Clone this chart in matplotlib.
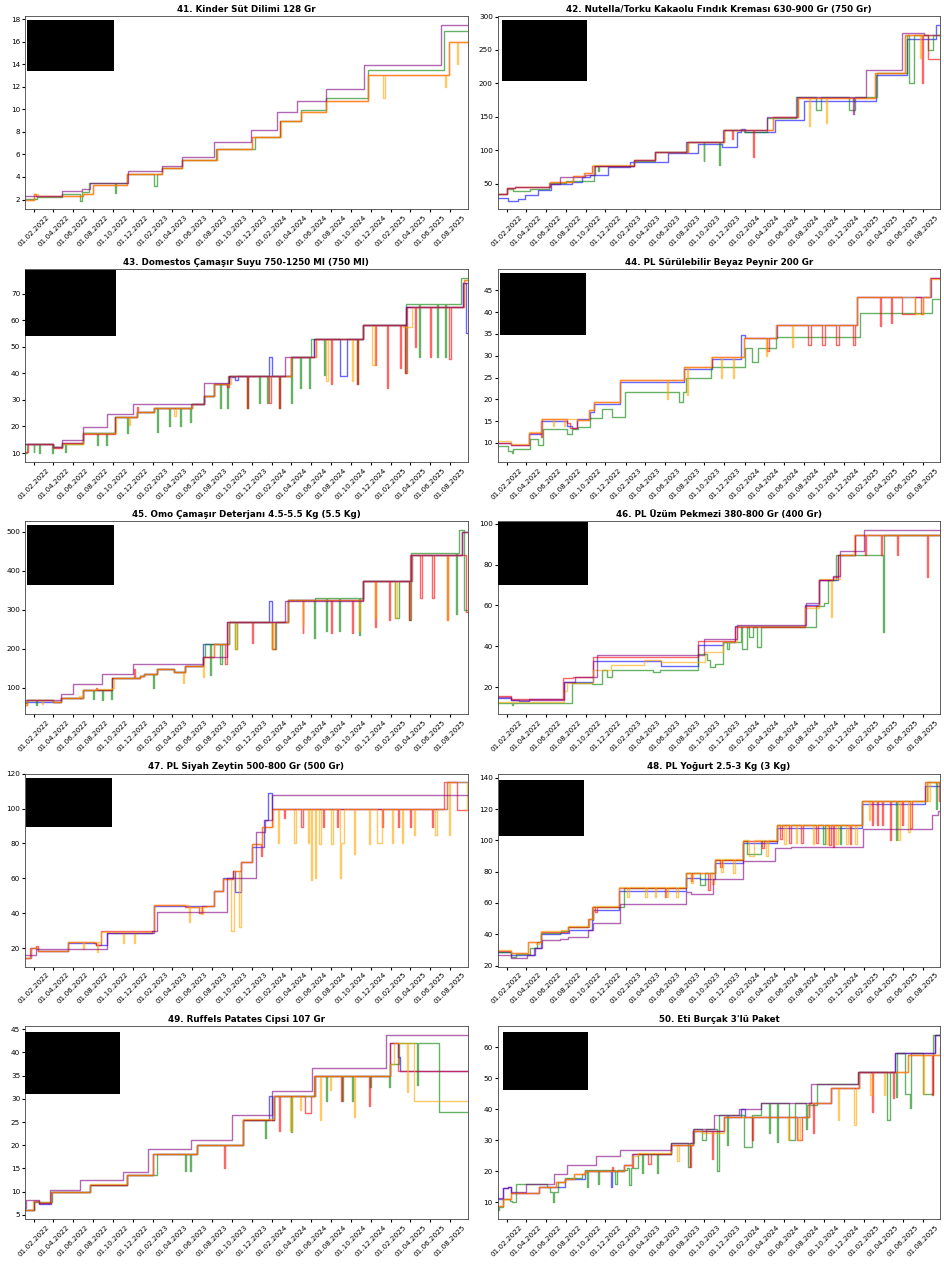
import matplotlib
matplotlib.use('Agg')
import matplotlib.pyplot as plt
import matplotlib.dates as mdates
from matplotlib.patches import Rectangle
import pandas as pd

END = '2025-09-24'

titles = ['41. Kinder Süt Dilimi 128 Gr',
          '42. Nutella/Torku Kakaolu Fındık Kreması 630-900 Gr (750 Gr)',
          '43. Domestos Çamaşır Suyu 750-1250 Ml (750 Ml)',
          '44. PL Sürülebilir Beyaz Peynir 200 Gr',
          '45. Omo Çamaşır Deterjanı 4.5-5.5 Kg (5.5 Kg)',
          '46. PL Üzüm Pekmezi 380-800 Gr (400 Gr)',
          '47. PL Siyah Zeytin 500-800 Gr (500 Gr)',
          '48. PL Yoğurt 2.5-3 Kg (3 Kg)',
          '49. Ruffels Patates Cipsi 107 Gr',
          "50. Eti Burçak 3'lü Paket"]

# --- 41 ---
blue41 = []
green41 = [('2022-01-04',2.05),('2022-02-10',2.2),('2022-04-26',2.5),('2022-06-22',1.9),('2022-06-29',2.7),('2022-07-20',3.5),('2022-10-08',2.6),('2022-10-11',3.5),('2022-11-13',4.3),('2023-02-04',3.2),('2023-02-14',4.3),('2023-03-02',4.8),('2023-04-30',5.5),('2023-08-14',6.5),('2023-12-10',7.5),('2024-02-26',9.0),('2024-05-01',9.95),('2024-07-16',11.0),('2024-11-21',13.5),('2025-07-15',16.95)]
red41 = [('2022-01-04',2.0),('2022-02-01',2.5),('2022-02-08',2.3),('2022-06-30',2.5),('2022-08-01',3.25),('2022-11-12',4.25),('2023-03-02',4.8),('2023-04-30',5.5),('2023-08-17',6.5),('2023-12-03',7.5),('2024-02-27',9.0),('2024-05-01',9.75),('2024-07-16',10.75),('2024-11-23',13.0),('2025-07-28',16.0)]
orange41 = [('2022-01-04',2.0),('2022-02-01',2.5),('2022-02-12',2.3),('2022-06-30',2.5),('2022-08-01',3.25),('2022-11-13',4.25),('2023-03-02',4.8),('2023-04-30',5.5),('2023-08-17',6.5),('2023-12-03',7.5),('2024-02-28',9.0),('2024-05-01',9.75),('2024-07-16',10.75),('2024-11-23',13.0),('2025-01-07',11.0),('2025-01-14',13.0),('2025-07-17',12.0),('2025-07-20',13.0),('2025-07-28',16.0),('2025-08-22',14.0),('2025-08-24',16.0)]
purple41 = [('2022-01-04',2.3),('2022-04-26',2.75),('2022-06-29',2.95),('2022-07-21',3.5),('2022-11-15',4.5),('2023-03-02',4.95),('2023-04-30',5.75),('2023-08-06',7.1),('2023-11-30',8.15),('2024-02-18',9.75),('2024-04-17',10.75),('2024-07-16',11.8),('2024-11-11',13.95),('2025-07-05',17.45)]

# --- 42 ---
blue42 = [('2022-01-04',28.5),('2022-02-05',25),('2022-03-06',27),('2022-03-28',33),('2022-05-08',41),('2022-06-18',50),('2022-08-19',53.5),('2022-09-19',60),('2022-10-15',64),('2022-12-10',75),('2023-02-15',83),('2023-06-11',96),('2023-09-10',110),('2023-11-23',105),('2024-01-09',127),('2024-01-20',132),('2024-02-03',127),('2024-05-06',146),('2024-08-03',174.5),('2025-03-10',212),('2025-06-13',266),('2025-09-10',287)]
green42 = [('2022-01-04',35),('2022-02-01',42.5),('2022-02-20',40),('2022-04-12',42.5),('2022-06-11',51),('2022-08-01',54),('2022-10-28',77),('2022-11-07',70),('2022-11-10',77),('2023-02-27',84),('2023-05-01',97),('2023-08-07',112),('2023-09-28',84),('2023-10-01',112),('2023-11-15',78),('2023-11-18',112),('2023-11-29',130),('2024-01-31',128),('2024-04-11',148),('2024-07-09',180),('2024-09-08',160),('2024-09-23',180),('2024-12-17',160),('2025-01-04',180),('2025-03-14',215),('2025-06-13',272),('2025-06-20',200),('2025-07-05',272),('2025-08-18',250),('2025-09-03',272)]
red42 = [('2022-01-04',35),('2022-02-01',44),('2022-02-26',45.5),('2022-06-14',53),('2022-08-22',62),('2022-09-25',66),('2022-10-20',77),('2023-02-27',85),('2023-05-01',98),('2023-08-12',113),('2023-11-29',130),('2023-12-24',117),('2023-12-27',130),('2024-02-26',90),('2024-02-29',130),('2024-04-28',150),('2024-07-14',178),('2025-03-09',216),('2025-06-08',272),('2025-07-29',200),('2025-08-01',272),('2025-08-18',236)]
orange42 = [('2022-01-04',35),('2022-02-01',44),('2022-02-26',45.5),('2022-06-14',53),('2022-08-22',62),('2022-09-25',66),('2022-10-25',78),('2023-02-27',85),('2023-05-01',98),('2023-08-12',113),('2023-11-29',130),('2024-04-28',150),('2024-07-14',178),('2024-08-16',137),('2024-08-19',178),('2024-10-07',141),('2024-10-10',178),('2025-03-09',216),('2025-06-08',272),('2025-07-23',238),('2025-07-26',272)]
purple42 = [('2022-01-04',35),('2022-02-01',44),('2022-02-26',45.5),('2022-06-14',50),('2022-07-15',61),('2022-09-30',64),('2022-10-30',77),('2023-02-27',85),('2023-05-01',98),('2023-08-04',112),('2023-11-26',130),('2024-04-09',150),('2024-07-11',180),('2024-12-29',155),('2025-01-01',180),('2025-02-09',220),('2025-05-30',275),('2025-08-05',272)]

# --- 43 ---
blue43 = [('2022-01-04',13.3),('2022-04-01',12.2),('2022-04-26',13.6),('2022-07-01',17.5),('2022-10-08',23.5),('2022-12-15',25.5),('2023-02-04',27.0),('2023-05-31',28.5),('2023-07-06',31.5),('2023-08-06',36.0),('2023-09-22',38.5),('2023-10-10',37.5),('2023-10-20',39.0),('2024-01-24',46.0),('2024-01-31',39.0),('2024-03-30',46.0),('2024-06-10',53.0),('2024-08-28',39.0),('2024-09-18',53.0),('2024-11-08',58.0),('2025-03-20',65.0),('2025-09-10',74.0),('2025-09-20',55.0)]
green43 = [('2022-01-04',10.0),('2022-01-09',13.3),('2022-01-30',10.5),('2022-02-02',13.3),('2022-02-15',10.0),('2022-02-18',13.3),('2022-03-27',10.0),('2022-03-30',13.3),('2022-04-01',12.2),('2022-04-26',13.5),('2022-05-06',10.5),('2022-05-09',13.5),('2022-07-01',17.5),('2022-08-13',13.0),('2022-08-16',17.5),('2022-09-11',13.0),('2022-09-14',17.5),('2022-10-06',23.5),('2022-11-14',17.6),('2022-11-17',23.5),('2022-12-15',25.5),('2023-02-04',27.0),('2023-02-14',18.0),('2023-02-17',27.0),('2023-03-23',20.2),('2023-03-26',27.0),('2023-04-25',20.3),('2023-04-28',27.0),('2023-05-25',21.5),('2023-05-28',28.5),('2023-07-06',31.5),('2023-08-06',36.0),('2023-08-27',26.8),('2023-08-30',36.0),('2023-09-17',26.8),('2023-09-20',39.0),('2023-11-17',27.0),('2023-11-20',39.0),('2023-12-23',29.0),('2023-12-26',39.0),('2024-01-16',29.0),('2024-01-19',39.0),('2024-02-24',27.0),('2024-02-27',39.0),('2024-03-30',29.0),('2024-04-02',46.0),('2024-04-26',34.5),('2024-04-29',46.0),('2024-05-24',34.5),('2024-05-27',46.0),('2024-06-01',53.0),('2024-07-11',39.5),('2024-07-14',53.0),('2024-10-19',36.0),('2024-10-22',53.0),('2024-11-08',58.0),('2025-03-17',40.0),('2025-03-20',66.0),('2025-04-28',46.0),('2025-05-01',66.0),('2025-06-22',46.0),('2025-06-26',66.0),('2025-07-17',46.0),('2025-07-21',66.0),('2025-09-05',76.0)]
red43 = [('2022-01-04',10.5),('2022-01-12',13.3),('2022-04-01',12.0),('2022-04-26',13.6),('2022-07-01',17.3),('2022-10-08',23.5),('2022-12-13',27.3),('2022-12-17',25.5),('2023-02-04',27.0),('2023-05-31',28.5),('2023-07-06',31.5),('2023-08-06',36.0),('2023-09-17',35.0),('2023-09-22',39.0),('2023-11-17',27.0),('2023-11-20',39.0),('2024-01-24',29.0),('2024-01-28',39.0),('2024-02-24',27.0),('2024-02-27',39.0),('2024-04-01',46.0),('2024-06-14',53.0),('2024-08-02',36.0),('2024-08-05',53.0),('2024-10-19',36.0),('2024-10-22',53.0),('2024-11-08',58.0),('2024-12-14',43.0),('2024-12-17',58.0),('2025-01-19',34.5),('2025-01-22',58.0),('2025-03-01',42.0),('2025-03-04',58.0),('2025-03-17',40.0),('2025-03-22',65.0),('2025-04-15',50.0),('2025-04-18',65.0),('2025-05-30',46.0),('2025-06-05',65.0),('2025-07-28',45.5),('2025-08-05',65.0),('2025-09-12',75.0)]
orange43 = [('2022-01-04',13.3),('2022-04-01',12.2),('2022-04-26',13.5),('2022-07-01',17.5),('2022-10-09',23.5),('2022-11-18',20.5),('2022-11-22',23.5),('2022-12-15',25.5),('2023-02-04',27.0),('2023-04-05',23.8),('2023-04-12',27.0),('2023-05-31',28.5),('2023-07-06',31.5),('2023-08-06',36.0),('2023-09-27',39.0),('2024-04-01',46.0),('2024-06-16',53.0),('2024-07-16',37.0),('2024-07-22',53.0),('2024-10-03',37.0),('2024-10-08',53.0),('2024-11-08',58.0),('2024-12-04',43.0),('2024-12-14',58.0),('2025-03-10',57.5),('2025-04-07',65.0),('2025-09-12',75.0)]
purple43 = [('2022-01-04',13.3),('2022-04-01',12.2),('2022-04-26',15.0),('2022-07-01',19.8),('2022-09-13',24.8),('2022-12-01',28.5),('2023-07-06',36.5),('2023-09-22',39.0),('2024-03-11',46.0),('2024-06-10',53.0),('2024-11-08',58.0),('2025-03-20',65.0),('2025-09-10',74.0)]

# --- 44 ---
blue44 = [('2022-01-04',10),('2022-02-13',9.5),('2022-04-09',12),('2022-05-17',15),('2022-08-04',14),('2022-08-19',13.5),('2022-09-04',15.5),('2022-10-15',17),('2022-10-28',19),('2023-01-13',24),('2023-07-30',27),('2023-10-25',29.3),('2024-01-20',34.8),('2024-02-03',34),('2024-05-11',37),('2025-01-10',43.5),('2025-08-25',47.8)]
green44 = [('2022-01-04',9.3),('2022-02-05',8.2),('2022-02-17',7.7),('2022-02-20',8.6),('2022-04-12',10.8),('2022-05-07',9.5),('2022-05-23',13.3),('2022-08-04',12),('2022-08-20',13.3),('2022-09-08',13.7),('2022-10-15',15.7),('2022-11-20',17.7),('2022-12-20',16),('2023-01-31',21.7),('2023-07-14',19.5),('2023-07-27',21.7),('2023-08-04',25),('2023-10-21',27.3),('2024-02-03',31.7),('2024-02-25',28.5),('2024-03-14',31.7),('2024-05-09',34.3),('2025-01-19',39.7),('2025-08-29',43)]
red44 = [('2022-01-04',10),('2022-02-13',9.5),('2022-04-09',12.3),('2022-05-16',11.3),('2022-05-19',15.5),('2022-08-04',14.5),('2022-08-15',13.5),('2022-09-04',15.3),('2022-10-10',17.5),('2022-10-28',19.5),('2023-01-13',24.5),('2023-07-30',27.5),('2023-10-23',29.8),('2024-01-31',34),('2024-04-11',31),('2024-04-15',34),('2024-05-09',37),('2024-08-14',32.5),('2024-08-24',37),('2024-09-27',32.5),('2024-10-05',37),('2024-11-08',32.5),('2024-11-16',37),('2024-12-29',32.5),('2025-01-04',37),('2025-01-10',43.5),('2025-03-23',36.7),('2025-03-26',43.5),('2025-04-25',37.5),('2025-04-28',43.5),('2025-05-28',39.5),('2025-07-07',43.5),('2025-07-28',39.5),('2025-08-01',43.5),('2025-08-23',47.9)]
orange44 = [('2022-01-04',10.5),('2022-02-13',9.8),('2022-04-09',12.5),('2022-05-16',15.5),('2022-06-24',13.8),('2022-06-27',15.5),('2022-07-27',13.8),('2022-07-30',15.5),('2022-09-04',15.3),('2022-10-10',17.5),('2022-10-28',19.5),('2023-01-13',24.5),('2023-06-08',20),('2023-06-11',24.5),('2023-07-30',27.5),('2023-08-07',21),('2023-08-10',27.5),('2023-10-21',29.8),('2023-11-21',24.8),('2023-11-24',29.8),('2023-12-27',24.8),('2023-12-30',29.8),('2024-01-31',34),('2024-04-06',30),('2024-04-10',34),('2024-05-09',37),('2024-06-25',32),('2024-06-28',37),('2025-01-10',43.5),('2025-07-07',39.5),('2025-08-01',43.5),('2025-08-24',47.5)]
purple44 = []

# --- 45 ---
blue45 = [('2022-01-04',65),('2022-04-01',63),('2022-04-24',75),('2022-07-01',94),('2022-09-29',125),('2022-12-22',130),('2023-01-04',135),('2023-02-14',148),('2023-04-05',140),('2023-05-10',157),('2023-07-04',212),('2023-09-22',268),('2024-01-24',322),('2024-01-31',268),('2024-03-20',325),('2024-11-08',375),('2025-04-05',440),('2025-09-07',500)]
green45 = [('2022-01-04',60),('2022-01-09',70),('2022-02-07',55),('2022-02-10',70),('2022-04-01',63),('2022-04-24',75),('2022-07-01',94),('2022-08-01',72),('2022-08-04',94),('2022-08-29',70),('2022-09-01',94),('2022-09-26',72),('2022-09-29',125),('2022-12-22',130),('2023-01-04',135),('2023-02-02',100),('2023-02-05',135),('2023-02-14',148),('2023-04-05',140),('2023-05-10',157),('2023-07-04',178),('2023-07-11',212),('2023-07-26',132),('2023-07-29',212),('2023-08-27',160),('2023-09-02',212),('2023-09-22',268),('2023-10-12',200),('2023-10-18',268),('2024-01-31',200),('2024-02-13',268),('2024-03-20',325),('2024-06-09',228),('2024-06-12',330),('2024-07-16',245),('2024-07-20',330),('2024-08-25',245),('2024-08-29',330),('2024-10-25',235),('2024-10-28',330),('2024-11-08',375),('2025-02-14',280),('2025-02-24',375),('2025-03-28',275),('2025-04-03',445),('2025-08-18',290),('2025-08-22',445),('2025-08-28',505),('2025-09-12',300)]
red45 = [('2022-01-04',55),('2022-01-09',70),('2022-04-01',63),('2022-04-24',75),('2022-07-01',94),('2022-08-10',100),('2022-08-14',94),('2022-09-29',125),('2022-12-05',148),('2022-12-08',125),('2022-12-22',130),('2023-01-04',135),('2023-02-14',148),('2023-04-05',140),('2023-05-10',157),('2023-07-04',178),('2023-08-06',212),('2023-09-09',160),('2023-09-15',268),('2023-12-01',215),('2023-12-04',268),('2024-01-31',200),('2024-02-10',268),('2024-03-20',325),('2024-05-05',240),('2024-05-08',325),('2024-08-02',240),('2024-08-05',325),('2024-10-03',240),('2024-10-06',325),('2024-11-08',375),('2024-12-14',255),('2024-12-17',375),('2025-01-25',275),('2025-01-28',375),('2025-03-28',275),('2025-04-01',440),('2025-05-02',330),('2025-05-08',440),('2025-06-06',330),('2025-06-12',440),('2025-07-23',275),('2025-07-27',440),('2025-09-19',295)]
orange45 = [('2022-01-04',55),('2022-01-09',70),('2022-02-24',58),('2022-02-28',70),('2022-04-01',63),('2022-04-24',75),('2022-06-20',80),('2022-06-24',75),('2022-07-01',94),('2022-08-10',98),('2022-09-29',100),('2022-10-04',125),('2022-12-22',130),('2023-01-04',135),('2023-02-14',148),('2023-04-05',140),('2023-05-03',113),('2023-05-08',140),('2023-05-10',157),('2023-07-04',128),('2023-07-08',178),('2023-08-06',212),('2023-09-22',268),('2023-10-12',200),('2023-10-16',268),('2024-01-31',200),('2024-02-04',268),('2024-03-20',325),('2024-05-05',260),('2024-05-08',325),('2024-10-25',245),('2024-10-28',325),('2024-11-08',375),('2024-12-14',280),('2024-12-18',375),('2025-02-14',280),('2025-02-18',375),('2025-04-05',440),('2025-07-23',275),('2025-07-27',440),('2025-09-07',500)]
purple45 = [('2022-01-04',70),('2022-04-24',83),('2022-06-01',110),('2022-08-29',136),('2022-12-01',160),('2023-07-04',178),('2023-09-17',268),('2024-03-11',322),('2024-11-08',375),('2025-04-03',440),('2025-09-07',500)]

# --- 46 ---
blue46 = [('2022-01-04',14.5),('2022-02-13',13.5),('2022-03-10',13),('2022-04-10',14),('2022-07-27',22.5),('2022-10-25',33),('2023-05-21',30.5),('2023-09-12',40.5),('2023-11-28',42),('2024-01-04',50),('2024-08-06',60),('2024-09-18',72.5),('2024-11-14',84.5),('2025-01-05',94.5)]
green46 = [('2022-01-04',12),('2022-02-16',11),('2022-02-21',12),('2022-08-19',22),('2022-10-20',21.5),('2022-11-20',28.5),('2022-12-05',25),('2022-12-20',28.5),('2023-04-26',27.5),('2023-05-16',28.5),('2023-09-12',36),('2023-10-08',33.5),('2023-10-18',30),('2023-11-01',31.5),('2023-11-28',42),('2023-12-09',38.5),('2023-12-16',42),('2024-01-20',49.5),('2024-01-25',38.5),('2024-02-10',49.5),('2024-02-14',44.5),('2024-02-27',49.5),('2024-03-11',39.5),('2024-03-24',49.5),('2024-09-08',59.5),('2024-10-03',61),('2024-10-14',72.5),('2024-11-09',84.5),('2025-04-01',47),('2025-04-04',94.5)]
red46 = [('2022-01-04',15.5),('2022-02-13',14),('2022-07-24',24.5),('2022-08-24',25),('2022-10-25',34.5),('2023-09-10',42.5),('2024-01-02',49.5),('2024-08-06',59.5),('2024-09-18',72.5),('2024-10-29',74),('2024-11-14',84.5),('2025-01-05',94.5),('2025-02-06',84.5),('2025-02-09',94.5),('2025-03-26',84.5),('2025-03-29',94.5),('2025-05-15',84.5),('2025-05-18',94.5),('2025-08-13',74),('2025-08-16',94.5)]
orange46 = [('2022-01-04',12.5),('2022-07-27',18),('2022-08-04',22),('2022-10-25',28.5),('2022-12-18',31),('2023-03-29',33.5),('2023-05-21',32.5),('2023-10-03',37),('2023-11-28',42),('2024-01-09',50),('2024-08-06',59),('2024-09-18',73),('2024-10-24',54.5),('2024-10-28',73),('2024-11-19',84.5),('2025-01-03',94.5)]
purple46 = [('2022-01-04',15),('2022-02-13',13.5),('2022-07-27',22.5),('2022-08-30',25),('2022-11-05',35.5),('2023-09-28',43.5),('2024-01-09',50.5),('2024-08-08',61),('2024-09-18',72.5),('2024-10-29',74.5),('2024-11-19',86.5),('2025-02-01',97)]

# --- 47 ---
blue47 = [('2022-01-04',14.5),('2022-01-21',20),('2022-02-13',18.5),('2022-05-17',23),('2022-08-11',22),('2022-09-13',28.5),('2023-02-04',44),('2023-08-06',52.5),('2023-09-04',60),('2023-10-05',64.5),('2023-10-12',52),('2023-10-28',64.5),('2023-10-30',69.5),('2023-12-03',78),('2024-01-08',93.5),('2024-01-21',109),('2024-02-01',99.5),('2025-07-22',115)]
green47 = []
red47 = [('2022-01-04',14.5),('2022-01-19',20),('2022-02-08',21),('2022-02-13',18.5),('2022-05-17',23.5),('2022-08-03',23),('2022-08-11',22),('2022-08-24',29.8),('2023-02-04',45),('2023-05-10',43.5),('2023-06-22',40),('2023-07-01',44),('2023-08-06',52.5),('2023-09-04',59.5),('2023-10-05',64.5),('2023-10-30',69.5),('2023-12-03',79.5),('2023-12-31',73),('2024-01-03',89.5),('2024-02-01',99.5),('2024-03-08',94.5),('2024-03-13',99.5),('2024-05-01',89.5),('2024-05-05',99.5),('2024-07-06',89.5),('2024-07-10',99.5),('2024-08-18',89.5),('2024-08-22',99.5),('2025-01-04',89.5),('2025-01-07',99.5),('2025-02-22',89.5),('2025-02-25',99.5),('2025-03-30',89.5),('2025-04-02',99.5),('2025-06-08',89.5),('2025-06-11',99.5),('2025-07-12',115),('2025-08-22',99)]
orange47 = [('2022-01-04',14.5),('2022-01-21',20),('2022-02-13',18.5),('2022-05-17',23.5),('2022-07-01',19.5),('2022-07-04',23.5),('2022-08-13',18),('2022-08-16',23.5),('2022-08-24',29.5),('2022-10-31',23),('2022-11-04',29.5),('2022-12-04',23),('2022-12-08',29.5),('2023-02-04',45),('2023-05-23',35),('2023-05-27',43.5),('2023-06-29',39.5),('2023-07-03',43.5),('2023-07-17',44),('2023-08-06',52.5),('2023-09-04',59.5),('2023-09-27',30),('2023-10-07',64.5),('2023-10-22',32),('2023-10-30',69.5),('2023-12-03',79.5),('2024-01-03',89.5),('2024-02-04',99.5),('2024-02-19',80),('2024-02-23',99.5),('2024-04-10',80),('2024-04-14',99.5),('2024-05-21',80),('2024-05-25',99.5),('2024-05-30',59),('2024-06-02',99.5),('2024-06-11',60),('2024-06-14',99.5),('2024-06-26',79.5),('2024-06-30',99.5),('2024-08-02',79.5),('2024-08-06',99.5),('2024-08-29',60),('2024-09-01',80),('2024-09-08',99.5),('2024-10-11',74),('2024-10-14',99.5),('2024-11-24',79.5),('2024-11-28',99.5),('2024-12-19',80),('2025-01-04',99.5),('2025-02-03',80),('2025-02-07',99.5),('2025-03-05',80),('2025-03-09',99.5),('2025-04-12',85),('2025-04-16',99.5),('2025-06-17',85),('2025-06-21',99.5),('2025-07-22',115),('2025-07-29',85),('2025-08-02',115),('2025-09-21',99)]
purple47 = [('2022-01-04',16),('2022-02-08',19.5),('2022-09-13',28.5),('2023-01-30',30),('2023-02-14',40.5),('2023-09-17',60),('2023-12-13',86.5),('2024-01-11',93.5),('2024-02-01',108)]

# --- 48 ---
blue48 = [('2022-01-04',28.5),('2022-02-13',27),('2022-04-28',31),('2022-05-18',40),('2022-07-13',41),('2022-08-12',43),('2022-10-20',49),('2022-10-25',55.5),('2023-01-10',67.5),('2023-08-04',76),('2023-09-17',75),('2023-11-03',85.5),('2024-01-26',98),('2024-05-11',108),('2025-01-27',123.5),('2025-08-08',135)]
green48 = [('2022-01-04',28.5),('2022-02-13',25.5),('2022-03-01',27.5),('2022-04-12',31),('2022-05-05',35),('2022-05-18',41),('2022-07-16',42),('2022-08-09',44.5),('2022-10-10',50),('2022-10-25',57.5),('2023-01-28',69.5),('2023-08-04',79),('2023-09-17',71.5),('2023-10-03',79),('2023-11-03',87.5),('2024-01-26',99.5),('2024-02-10',91.5),('2024-03-21',99.5),('2024-05-11',109.5),('2024-09-29',97.5),('2024-10-04',109.5),('2024-11-19',97.5),('2024-11-24',109.5),('2025-01-27',125),('2025-05-11',100),('2025-05-15',125),('2025-08-13',137),('2025-09-10',120),('2025-09-14',137)]
red48 = [('2022-01-04',29.5),('2022-02-13',28),('2022-04-07',35),('2022-05-18',41.5),('2022-08-07',44.5),('2022-10-08',50),('2022-10-22',57.5),('2022-10-31',54),('2022-11-05',57.5),('2023-01-10',69.5),('2023-06-01',64),('2023-06-05',69.5),('2023-08-04',79),('2023-08-20',74),('2023-08-25',79),('2023-10-13',68),('2023-10-17',79),('2023-11-03',87.5),('2023-11-18',83),('2023-11-23',87.5),('2024-01-26',99.5),('2024-03-27',95),('2024-04-01',99.5),('2024-05-11',109.5),('2024-05-21',101),('2024-05-26',109.5),('2024-06-17',98),('2024-06-22',109.5),('2024-07-23',98),('2024-07-28',109.5),('2024-09-08',98),('2024-09-13',109.5),('2024-10-17',97),('2024-10-22',109.5),('2024-10-29',96),('2024-11-03',109.5),('2024-12-20',97.5),('2024-12-25',109.5),('2025-01-27',125),('2025-02-26',110),('2025-03-02',125),('2025-03-13',110),('2025-03-17',125),('2025-03-28',110),('2025-04-01',125),('2025-04-23',100),('2025-04-27',125),('2025-05-29',110),('2025-06-03',125),('2025-06-23',108),('2025-06-28',125),('2025-08-08',137),('2025-09-21',125)]
orange48 = [('2022-01-04',30),('2022-02-13',28),('2022-04-07',35),('2022-05-02',33.5),('2022-05-12',35),('2022-05-18',42),('2022-07-16',42.5),('2022-08-07',45),('2022-10-10',50),('2022-10-25',58),('2023-01-10',70),('2023-02-05',63.5),('2023-02-10',70),('2023-04-01',63.5),('2023-04-06',70),('2023-05-01',63.5),('2023-05-06',70),('2023-06-06',63.5),('2023-06-11',70),('2023-07-07',63.5),('2023-07-12',70),('2023-08-04',79),('2023-08-22',72.5),('2023-08-27',79),('2023-10-25',72),('2023-10-29',79),('2023-11-03',88),('2023-11-21',80),('2023-11-26',88),('2023-12-29',79),('2024-01-02',88),('2024-01-26',100),('2024-02-15',90),('2024-03-01',100),('2024-04-06',90),('2024-04-12',100),('2024-05-11',110),('2024-06-01',97.5),('2024-06-06',110),('2024-07-07',98),('2024-07-12',110),('2024-08-28',97.5),('2024-09-02',110),('2024-10-09',97.5),('2024-10-14',110),('2024-11-09',97.5),('2024-11-14',110),('2024-12-10',97.5),('2024-12-15',110),('2025-01-05',97.5),('2025-01-10',110),('2025-01-27',125),('2025-02-16',113),('2025-02-20',125),('2025-05-18',100),('2025-05-23',125),('2025-06-18',105),('2025-06-22',125),('2025-08-13',137),('2025-08-18',125),('2025-08-22',137)]
purple48 = [('2022-01-04',27),('2022-02-13',25),('2022-04-05',26.5),('2022-04-25',31.5),('2022-05-20',36.4),('2022-07-13',37),('2022-08-07',38),('2022-10-08',42.5),('2022-10-25',47.5),('2023-01-13',59.5),('2023-08-04',67),('2023-08-20',65.5),('2023-10-28',75),('2024-01-26',87),('2024-05-06',95),('2024-06-22',95.5),('2025-01-30',107.5),('2025-08-29',116),('2025-09-17',119)]

# --- 49 ---
blue49 = [('2022-01-04',6),('2022-01-30',8),('2022-02-15',7.3),('2022-03-26',10),('2022-07-21',11.5),('2022-11-12',13.5),('2023-02-02',18),('2023-06-15',20),('2023-11-03',25.5),('2024-01-24',30.5),('2024-02-01',25.5),('2024-02-07',30.5),('2024-06-11',35),('2025-01-30',42),('2025-02-21',39),('2025-03-01',36)]
green49 = [('2022-01-04',6),('2022-01-30',7.7),('2022-03-29',10),('2022-07-23',11.5),('2022-11-14',13.5),('2023-02-12',18),('2023-05-10',14.5),('2023-05-13',18),('2023-05-25',14.5),('2023-05-28',18),('2023-06-17',20),('2023-11-05',25.5),('2024-01-12',21.5),('2024-01-15',25.5),('2024-02-09',30.5),('2024-03-30',22.8),('2024-04-02',30.5),('2024-06-13',35),('2024-07-16',29.5),('2024-07-19',35),('2024-09-02',29.5),('2024-09-05',35),('2024-10-03',29.5),('2024-10-06',35),('2024-11-29',32.5),('2024-12-02',35),('2025-01-25',32.5),('2025-01-28',37.5),('2025-02-26',42),('2025-04-22',33),('2025-04-26',42),('2025-06-27',27.1)]
red49 = [('2022-01-04',6),('2022-01-30',8),('2022-02-15',7.5),('2022-03-26',10),('2022-07-21',11.5),('2022-11-12',13.5),('2023-02-02',18),('2023-06-15',20),('2023-09-06',15),('2023-09-09',20),('2023-11-03',25.5),('2024-02-07',30.5),('2024-02-24',23),('2024-02-27',30.5),('2024-05-12',27),('2024-06-01',30.5),('2024-06-09',35),('2024-08-31',29.5),('2024-09-03',35),('2024-11-24',28.5),('2024-11-28',35),('2025-01-30',42),('2025-02-21',36)]
orange49 = [('2022-01-04',6),('2022-01-27',8),('2022-02-15',7.7),('2022-03-26',10),('2022-07-21',11.6),('2022-11-12',13.6),('2023-02-02',18.1),('2023-06-15',20.1),('2023-11-03',25.6),('2024-02-07',30.6),('2024-03-27',23),('2024-04-02',30.6),('2024-04-26',27.5),('2024-04-30',30.6),('2024-06-11',35),('2024-06-28',25.5),('2024-07-01',35),('2024-07-27',32),('2024-07-30',35),('2024-10-11',26),('2024-10-14',35),('2025-01-30',37.5),('2025-02-10',42),('2025-03-23',31.5),('2025-03-26',42),('2025-04-12',29.6)]
purple49 = [('2022-01-04',6.5),('2022-01-06',8.3),('2022-02-15',7.5),('2022-03-21',10.3),('2022-06-22',12.4),('2022-11-02',14.3),('2023-01-16',19.1),('2023-05-30',21.1),('2023-10-02',26.5),('2024-02-01',31.6),('2024-06-03',36.6),('2025-01-17',43.8)]

# --- 50 ---
blue50 = [('2022-01-04',11),('2022-01-20',14.5),('2022-02-05',15),('2022-02-15',13),('2022-05-12',15),('2022-07-29',17.5),('2022-09-28',20),('2022-12-18',15),('2022-12-22',20),('2023-01-26',22),('2023-02-20',25.5),('2023-06-21',28.5),('2023-08-28',33),('2023-11-29',37.5),('2024-01-20',40),('2024-02-01',37.5),('2024-08-18',42),('2024-10-24',47),('2025-01-18',52),('2025-05-08',58),('2025-09-08',64)]
green50 = [('2022-01-04',7.5),('2022-01-08',8.5),('2022-01-20',11),('2022-02-10',10.5),('2022-02-17',10),('2022-03-01',16),('2022-06-03',15),('2022-06-13',13.5),('2022-06-23',10.2),('2022-06-26',13.5),('2022-07-08',16.5),('2022-07-29',18),('2022-09-20',19),('2022-09-30',20.3),('2022-10-05',15),('2022-10-08',20.3),('2022-11-08',16),('2022-11-11',20.3),('2022-12-30',16),('2023-01-04',20.3),('2023-02-05',21),('2023-02-10',15.5),('2023-02-16',21),('2023-03-11',25.5),('2023-03-22',19.5),('2023-03-25',25.5),('2023-05-09',19.5),('2023-05-12',25.5),('2023-06-21',29),('2023-08-12',21.5),('2023-08-16',29),('2023-08-29',33.5),('2023-09-23',30),('2023-10-05',33.5),('2023-11-08',20),('2023-11-13',38),('2023-12-10',28.5),('2023-12-13',38),('2024-01-31',28),('2024-02-25',38),('2024-03-24',42),('2024-04-16',32.5),('2024-04-19',42),('2024-05-11',29.5),('2024-05-14',42),('2024-06-16',30),('2024-07-06',42),('2024-08-08',33.5),('2024-08-11',41.5),('2024-09-10',48),('2025-01-15',52),('2025-04-13',36.5),('2025-04-23',52),('2025-05-11',44),('2025-05-15',58),('2025-06-07',45),('2025-06-23',40.5),('2025-06-26',58),('2025-08-01',45),('2025-09-02',64)]
red50 = [('2022-01-04',9),('2022-01-20',11),('2022-02-15',13),('2022-05-12',15),('2022-07-03',16.5),('2022-07-29',17.5),('2022-08-25',19),('2022-09-28',20),('2022-12-20',21.5),('2022-12-24',20),('2023-01-26',22),('2023-02-20',21.5),('2023-02-24',25.5),('2023-04-11',22.5),('2023-04-21',25.5),('2023-06-21',28.5),('2023-08-17',21.5),('2023-08-20',28.5),('2023-08-28',33),('2023-10-23',24),('2023-10-27',33),('2023-11-29',37.5),('2024-02-25',30),('2024-02-28',37.5),('2024-07-12',30),('2024-07-27',37.5),('2024-08-18',42),('2024-08-29',32.5),('2024-09-02',42),('2024-10-24',47),('2025-01-18',52),('2025-02-26',39),('2025-03-02',52),('2025-05-01',43.5),('2025-05-05',52),('2025-06-18',57.5),('2025-08-29',44.5),('2025-09-02',57.5),('2025-09-22',60)]
orange50 = [('2022-01-04',9),('2022-01-20',11),('2022-02-15',13),('2022-05-12',15),('2022-07-03',16.5),('2022-07-29',17.5),('2022-08-25',19),('2022-09-28',20),('2023-01-26',22),('2023-02-20',25),('2023-03-11',25.8),('2023-06-21',28.5),('2023-07-10',23.5),('2023-07-14',28.5),('2023-08-28',33),('2023-09-23',32.5),('2023-11-29',37.5),('2024-06-14',30),('2024-06-18',37.5),('2024-07-15',30),('2024-07-19',37.5),('2024-08-18',42),('2024-10-24',47),('2024-11-14',36.5),('2024-11-18',47),('2025-01-03',35),('2025-01-07',47),('2025-01-18',52),('2025-02-21',44.5),('2025-02-25',52),('2025-04-03',44.5),('2025-04-07',52),('2025-06-18',57.5),('2025-08-01',45),('2025-08-05',57.5)]
purple50 = [('2022-01-04',11.5),('2022-01-20',14.5),('2022-02-05',15),('2022-02-15',13.5),('2022-04-02',16),('2022-06-26',19),('2022-08-04',22),('2022-11-01',24.8),('2023-01-15',27),('2023-06-21',29),('2023-08-28',33.5),('2023-10-29',38),('2024-01-15',40),('2024-03-24',42),('2024-08-24',48),('2025-01-15',52),('2025-05-08',58),('2025-09-08',64)]

colors = ['blue', 'green', 'red', 'orange', 'purple']
panels = [
    [blue41, green41, red41, orange41, purple41],
    [blue42, green42, red42, orange42, purple42],
    [blue43, green43, red43, orange43, purple43],
    [blue44, green44, red44, orange44, purple44],
    [blue45, green45, red45, orange45, purple45],
    [blue46, green46, red46, orange46, purple46],
    [blue47, green47, red47, orange47, purple47],
    [blue48, green48, red48, orange48, purple48],
    [blue49, green49, red49, orange49, purple49],
    [blue50, green50, red50, orange50, purple50],
]
# black boxes over the legends (axes fraction: x, y, w, h)
boxes = [(0.005, 0.719, 0.197, 0.265), (0.009, 0.668, 0.192, 0.316),
         (0.0, 0.653, 0.206, 0.342), (0.005, 0.658, 0.194, 0.322),
         (0.005, 0.667, 0.197, 0.312), (0.0, 0.672, 0.203, 0.323),
         (0.002, 0.725, 0.195, 0.254), (0.002, 0.679, 0.194, 0.29),
         (0.0, 0.648, 0.215, 0.321), (0.011, 0.668, 0.192, 0.301)]

fig, axes = plt.subplots(5, 2, figsize=(9.45, 12.65), dpi=100)
fig.subplots_adjust(left=0.0265, right=0.995, top=0.987, bottom=0.0364,
                    wspace=0.068, hspace=0.308)

for i, ax in enumerate(axes.flat):
    for series, c in zip(panels[i], colors):
        if not series:
            continue
        x = pd.to_datetime([d for d, v in series] + [END])
        y = [v for d, v in series] + [series[-1][1]]
        ax.step(x, y, where='post', color=c, alpha=0.6, lw=1.0)
    ax.set_title(titles[i], fontsize=6.3, fontweight='bold', pad=3)
    ax.margins(x=0)
    ax.xaxis.set_major_locator(mdates.MonthLocator(bymonth=[2, 4, 6, 8, 10, 12]))
    ax.xaxis.set_major_formatter(mdates.DateFormatter('%d.%m.%Y'))
    ax.tick_params(axis='x', rotation=45, labelsize=5.2, length=2.5, pad=1)
    ax.tick_params(axis='y', labelsize=5.2, length=2.5, pad=1)
    for s in ax.spines.values():
        s.set_linewidth(0.6)
        s.set_color('#444444')
    bx, by, bw, bh = boxes[i]
    ax.add_patch(Rectangle((bx, by), bw, bh, transform=ax.transAxes,
                           facecolor='black', edgecolor='none', zorder=5))

fig.savefig('out.png', dpi=100)
